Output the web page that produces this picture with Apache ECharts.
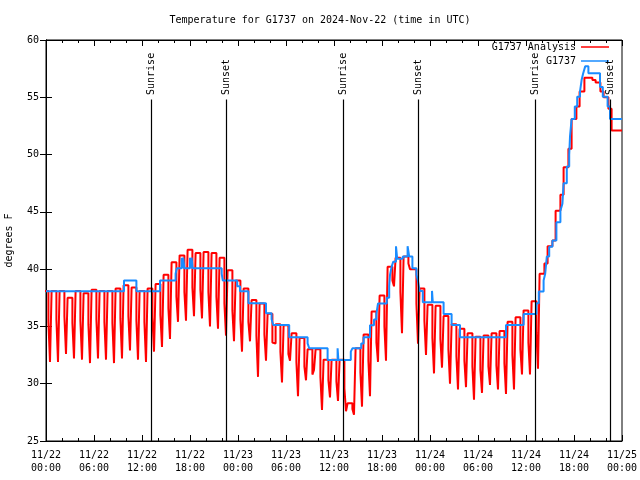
<!DOCTYPE html>
<html><head><meta charset="utf-8">
<script src="https://cdn.jsdelivr.net/npm/echarts@6/dist/echarts.min.js"></script>
<style>html,body{margin:0;padding:0;background:#fff}#c{width:640px;height:480px}</style>
</head><body><div id="c"></div>
<script>
const FONT = 'DejaVu Sans Mono';
// x axis: hours since 2024-11-22 00:00 UTC
const xTickLabels = ['11/22\n00:00','11/22\n06:00','11/22\n12:00','11/22\n18:00',
  '11/23\n00:00','11/23\n06:00','11/23\n12:00','11/23\n18:00',
  '11/24\n00:00','11/24\n06:00','11/24\n12:00','11/24\n18:00','11/25\n00:00'];
// Analysis: hourly plateau value, then a short intermediate value, then the brief low value
const anaTop = [
  38.1, 38.1, 38.1, 37.5, 38.1, 37.9, 38.2, 38.1, 38.1, 38.3,
  38.6, 38.4, 38.1, 38.3, 38.7, 39.5, 40.6, 41.2, 41.7, 41.4,
  41.5, 41.4, 41.0, 39.9, 39.0, 38.3, 37.3, 37.0, 36.1, 35.2,
  35.1, 34.4, 34.0, 33.0, 33.0, 32.1, 32.1, 32.1, 28.3, 33.1,
  34.3, 36.3, 37.7, 40.2, 41.0, 41.1, 40.0, 38.3, 36.9, 36.8,
  35.9, 35.2, 34.8, 34.4, 34.1, 34.2, 34.4, 34.6, 35.4, 35.8,
  36.4, 37.2, 39.6, 42.0, 45.1, 48.9, 53.1, 55.5, 56.7, 56.3,
  55.0, 52.1, 52.1];
const anaMid = [
  35.4, 35.6, 35.9, 35.3, 35.5, 35.2, 35.6, 35.4, 35.3, 35.7,
  35.9, 35.5, 35.4, 35.8, 36.0, 36.6, 37.6, 38.0, 38.4, 38.2,
  38.0, 37.6, 37.0, 36.4, 35.6, 35.4, 34.2, 34.3, 33.6, 32.8,
  32.6, 31.9, 31.5, 30.8, 30.6, 30.3, 30.2, 29.6, 27.8, 31.0,
  32.0, 33.6, 35.0, 39.0, 38.0, 40.5, 37.0, 35.5, 34.0, 33.9,
  33.0, 32.4, 32.0, 31.5, 31.2, 31.5, 31.6, 31.8, 32.5, 33.0,
  33.6, 34.5, 40.5, 42.5, 46.5, 50.5, 54.2, 56.7, 56.5, 55.5,
  54.0, 52.1];
const anaDip = [
  31.9, 31.9, 32.6, 32.2, 32.1, 31.8, 32.2, 32.1, 31.8, 32.2,
  32.9, 32.1, 31.9, 32.8, 33.2, 33.9, 35.4, 35.5, 35.9, 35.7,
  35.0, 34.8, 34.2, 33.7, 32.8, 33.7, 30.6, 32.0, 33.5, 30.1,
  32.0, 28.9, 30.3, 31.2, 27.7, 28.8, 28.5, 27.6, 27.3, 28.0,
  28.9, 31.9, 32.0, 38.5, 34.4, 40.0, 33.5, 32.5, 30.9, 31.4,
  30.0, 29.5, 29.7, 28.6, 29.2, 29.9, 29.5, 29.1, 29.5, 30.8,
  30.8, 31.3, 40.5, 42.5, 46.5, 50.5, 54.2, 56.7, 56.5, 55.5,
  54.0, 52.1];
// Observations (G1737)
const obsHours = [0, 9.75, 11.3, 14.25, 16.2, 16.35, 16.95, 17.05, 17.15, 17.3,
  18.0, 18.1, 18.2, 18.33, 21.96, 22.1, 23.9, 24.25, 25.3, 27.5,
  28.2, 28.4, 30.4, 32.7, 32.9, 35.2, 36.45, 36.55, 38.1, 38.3,
  39.4, 39.7, 40.5, 41.0, 41.3, 41.5, 42.6, 42.9, 43.0, 43.2,
  43.4, 43.75, 43.9, 44.6, 45.2, 45.4, 45.8, 46.3, 46.5, 46.7,
  47.1, 48.25, 48.35, 49.7, 50.7, 51.75, 57.5, 59.7, 61.3, 61.6,
  62.2, 62.4, 62.6, 62.9, 63.3, 63.8, 64.3, 64.55, 64.7, 65.1,
  65.4, 65.5, 65.7, 66.1, 66.4, 66.75, 66.95, 67.15, 67.4, 67.8,
  69.25, 69.6, 70.2, 70.5, 72];
const obsTemps = [38.07, 39.0, 38.07, 39.0, 39.6, 40.07, 41.0, 40.07, 41.0, 40.07,
  41.0, 40.07, 41.0, 40.07, 39.6, 39.0, 38.5, 38.07, 37.02, 36.14,
  35.62, 35.12, 34.05, 33.52, 33.09, 32.07, 33.1, 32.07, 32.8, 33.09,
  33.52, 34.05, 35.1, 35.6, 36.1, 37.0, 37.5, 38.5, 39.5, 40.2,
  40.65, 42.0, 40.9, 41.1, 42.0, 41.1, 40.07, 39.5, 38.96, 38.1,
  37.1, 38.1, 37.1, 36.08, 35.12, 34.05, 35.12, 36.08, 37.02, 38.05,
  39.0, 39.6, 41.1, 41.96, 42.5, 44.1, 45.1, 45.7, 47.5, 48.95,
  49.96, 51.56, 53.1, 54.2, 55.05, 55.5, 56.5, 57.1, 57.7, 57.1,
  55.9, 55.05, 54.2, 53.1, 53.1];
const eventHours = [13.125, 22.5, 37.125, 46.5, 61.125, 70.5];
const eventNames = ['Sunrise', 'Sunset', 'Sunrise', 'Sunset', 'Sunrise', 'Sunset'];
const eventLineTop = 54.8;
const eventLabelBase = 55.2;

const anaData = [];
for (let k = 0; k < anaTop.length; k++) {
  anaData.push([k - 0.3, anaTop[k]]);
  if (k < anaDip.length) {
    anaData.push([k + 0.3, anaMid[k]]);
    anaData.push([k + 0.5, anaDip[k]]);
  }
}
anaData.push([72, anaTop[anaTop.length - 1]]);
const obsData = obsHours.map((h, i) => [h, obsTemps[i]]);

const txt = {fontFamily: FONT, fontSize: 10, color: '#000'};
const chart = echarts.init(document.getElementById('c'), null, {renderer: 'canvas'});
const axCommon = {
  axisLine: {show: true, lineStyle: {color: '#000', width: 1}},
  splitLine: {show: false}
};
chart.setOption({
  animation: false,
  backgroundColor: '#fff',
  title: {text: 'Temperature for G1737 on 2024-Nov-22 (time in UTC)', left: 'center', top: 10,
    textStyle: Object.assign({fontWeight: 'normal'}, txt)},
  grid: {left: 46, right: 18, top: 40, bottom: 39, show: true, borderColor: '#000', borderWidth: 1,
    containLabel: false, outerBoundsMode: 'none'},
  legend: [
    {data: ['G1737 Analysis'], right: 31, top: 42, padding: 0, align: 'right', icon: 'rect',
      itemWidth: 28, itemHeight: 1.5, itemGap: 5, textStyle: txt, selectedMode: false},
    {data: ['G1737'], right: 31, top: 56, padding: 0, align: 'right', icon: 'rect',
      itemWidth: 28, itemHeight: 1.5, itemGap: 5, textStyle: txt, selectedMode: false}
  ],
  xAxis: [
    Object.assign({type: 'value', min: 0, max: 72, interval: 6, position: 'bottom',
      axisTick: {inside: true, length: 6, lineStyle: {color: '#000'}},
      minorTick: {show: true, splitNumber: 3, length: 3, lineStyle: {color: '#000'}},
      axisLabel: Object.assign({margin: 8, lineHeight: 13,
        formatter: v => xTickLabels[Math.round(v / 6)]}, txt)}, axCommon),
    Object.assign({type: 'value', min: 0, max: 72, interval: 6, position: 'top',
      axisTick: {inside: true, length: 6, lineStyle: {color: '#000'}},
      minorTick: {show: true, splitNumber: 3, length: 3, lineStyle: {color: '#000'}},
      axisLabel: {show: false}}, axCommon)
  ],
  yAxis: [
    Object.assign({type: 'value', min: 25, max: 60, interval: 5, position: 'left',
      name: 'degrees F', nameLocation: 'middle', nameGap: 32, nameRotate: 90,
      nameTextStyle: txt,
      axisTick: {inside: true, length: 6, lineStyle: {color: '#000'}},
      axisLabel: Object.assign({margin: 7}, txt)}, axCommon),
    Object.assign({type: 'value', min: 25, max: 60, interval: 5, position: 'right',
      axisTick: {inside: true, length: 6, lineStyle: {color: '#000'}},
      axisLabel: {show: false}}, axCommon)
  ],
  series: [
    {name: 'G1737 Analysis', type: 'line', step: 'end', data: anaData, showSymbol: false,
      color: '#ff0000', lineStyle: {color: '#ff0000', width: 2}, z: 2},
    {name: 'G1737', type: 'line', step: 'end', data: obsData, showSymbol: false,
      color: '#1a8cff', lineStyle: {color: '#1a8cff', width: 2}, z: 3},
    {name: 'events', type: 'line', data: [], z: 4,
      markLine: {silent: true, symbol: ['none', 'none'], label: {show: false},
        lineStyle: {color: '#000', width: 1.2, type: 'solid'},
        data: eventHours.map(h => [{coord: [h, 25]}, {coord: [h, eventLineTop]}])}}
  ]
});
const graphics = eventHours.map((h, i) => {
  const p = chart.convertToPixel({seriesIndex: 0}, [h, eventLabelBase]);
  return {type: 'text', x: p[0], y: p[1], rotation: Math.PI / 2, z: 10,
    style: {text: eventNames[i], font: '10px ' + FONT, fill: '#000',
      textAlign: 'left', textVerticalAlign: 'middle'}};
});
chart.setOption({graphic: graphics});
</script>
</body></html>
